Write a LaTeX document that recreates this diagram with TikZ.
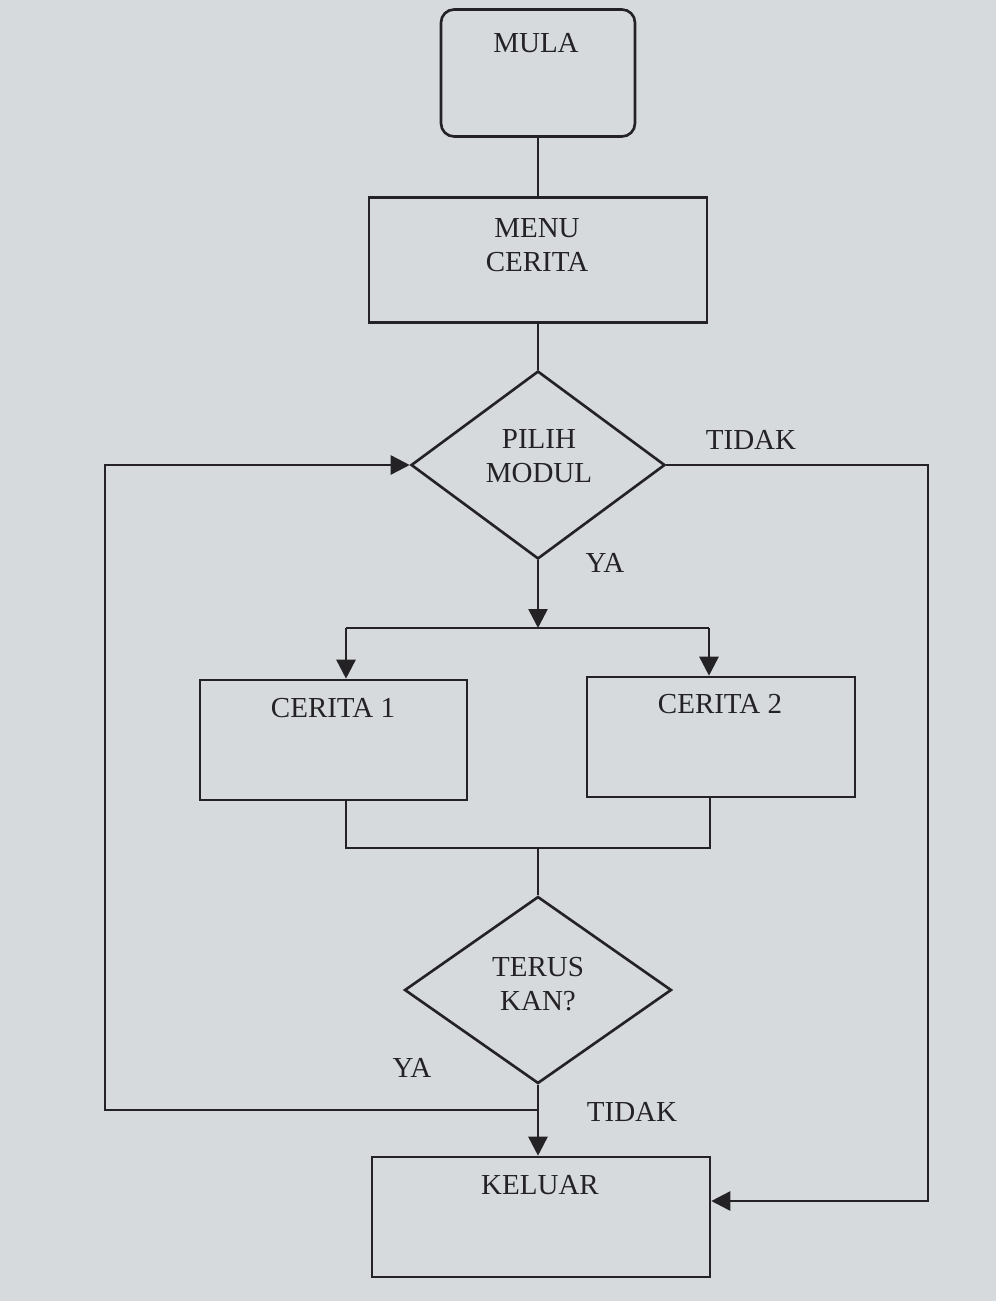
\documentclass[tikz,border=0pt]{standalone}
\usepackage{fontspec}
\setmainfont{Liberation Serif}
\usetikzlibrary{shapes.geometric,arrows.meta}
\definecolor{paper}{RGB}{214,218,221}
\definecolor{ink}{RGB}{36,34,36}
\tikzset{
  box/.style={draw=ink,line width=1.5pt,rectangle,inner sep=0pt},
  rbox/.style={box,rounded corners=0.26cm},
  dia/.style={draw=ink,line width=1.5pt,diamond,inner sep=0pt},
  txt/.style={text=ink,font=\fontsize{16.5}{19.4}\selectfont,align=center,inner sep=0pt},
  conn/.style={draw=ink,line width=1.5pt},
  arr/.style={conn,-{Triangle[length=0.38cm,width=0.38cm]}}
}
\begin{document}
\begin{tikzpicture}[x={0.02cm},y={-0.02cm}]
\fill[paper] (0,0) rectangle (996,1301);
\useasboundingbox (0,0) rectangle (996,1301);
% shapes
\node[rbox,minimum width=3.88cm,minimum height=2.54cm] (mula) at (538,73) {};
\node[box,minimum width=6.76cm,minimum height=2.5cm] (menu) at (538,260) {};
\node[dia,minimum width=5.08cm,minimum height=3.76cm] (pilih) at (538,465) {};
\node[box,minimum width=5.34cm,minimum height=2.4cm] (c1) at (333.5,740) {};
\node[box,minimum width=5.36cm,minimum height=2.4cm] (c2) at (721,737) {};
\node[dia,minimum width=5.34cm,minimum height=3.74cm] (terus) at (538,990) {};
\node[box,minimum width=6.76cm,minimum height=2.4cm] (keluar) at (541,1217) {};
% texts
\node[txt] (mulat) at (536,43) {MULA};
\node[txt] (menut) at (537,245) {MENU\\CERITA};
\node[txt] (piliht) at (539,456) {PILIH\\MODUL};
\node[txt] (c1t) at (333,708) {CERITA 1};
\node[txt] (c2t) at (720,704) {CERITA 2};
\node[txt] (terust) at (538,984) {TERUS\\KAN?};
\node[txt] (keluart) at (540,1185) {KELUAR};
\node[txt] (tidak1) at (751,440) {TIDAK};
\node[txt] (ya1) at (605,563) {YA};
\node[txt] (ya2) at (412,1068) {YA};
\node[txt] (tidak2) at (632,1112) {TIDAK};
% coordinates
\coordinate (split) at (538,628);
\coordinate (j1) at (346,628);
\coordinate (j2) at (709,628);
\coordinate (m1) at (346,848);
\coordinate (m2) at (710,848);
\coordinate (mc) at (538,848);
\coordinate (lp) at (538,1110);
\coordinate (lpl) at (105,1110);
\coordinate (r1) at (928,465);
\coordinate (r2) at (928,1201);
% connectors
\draw[conn] (mula.south) -- (menu.north);
\draw[conn] (menu.south) -- (pilih.north);
\draw[arr] (pilih.south) -- (split);
\draw[conn] (j1) -- (j2);
\draw[arr] (j1) -- (j1 |- c1.north);
\draw[arr] (j2) -- (j2 |- c2.north);
\draw[conn] (m1 |- c1.south) -- (m1) -- (m2) -- (m2 |- c2.south);
\draw[conn] (mc) -- (terus.north);
\draw[arr] (terus.south) -- (terus.south |- keluar.north);
\draw[arr] (lp) -- (lpl) -- (lpl |- pilih.west) -- (pilih.west);
\draw[arr] (pilih.east) -- (r1) -- (r2) -- (r2 -| keluar.east);
\end{tikzpicture}
\end{document}
